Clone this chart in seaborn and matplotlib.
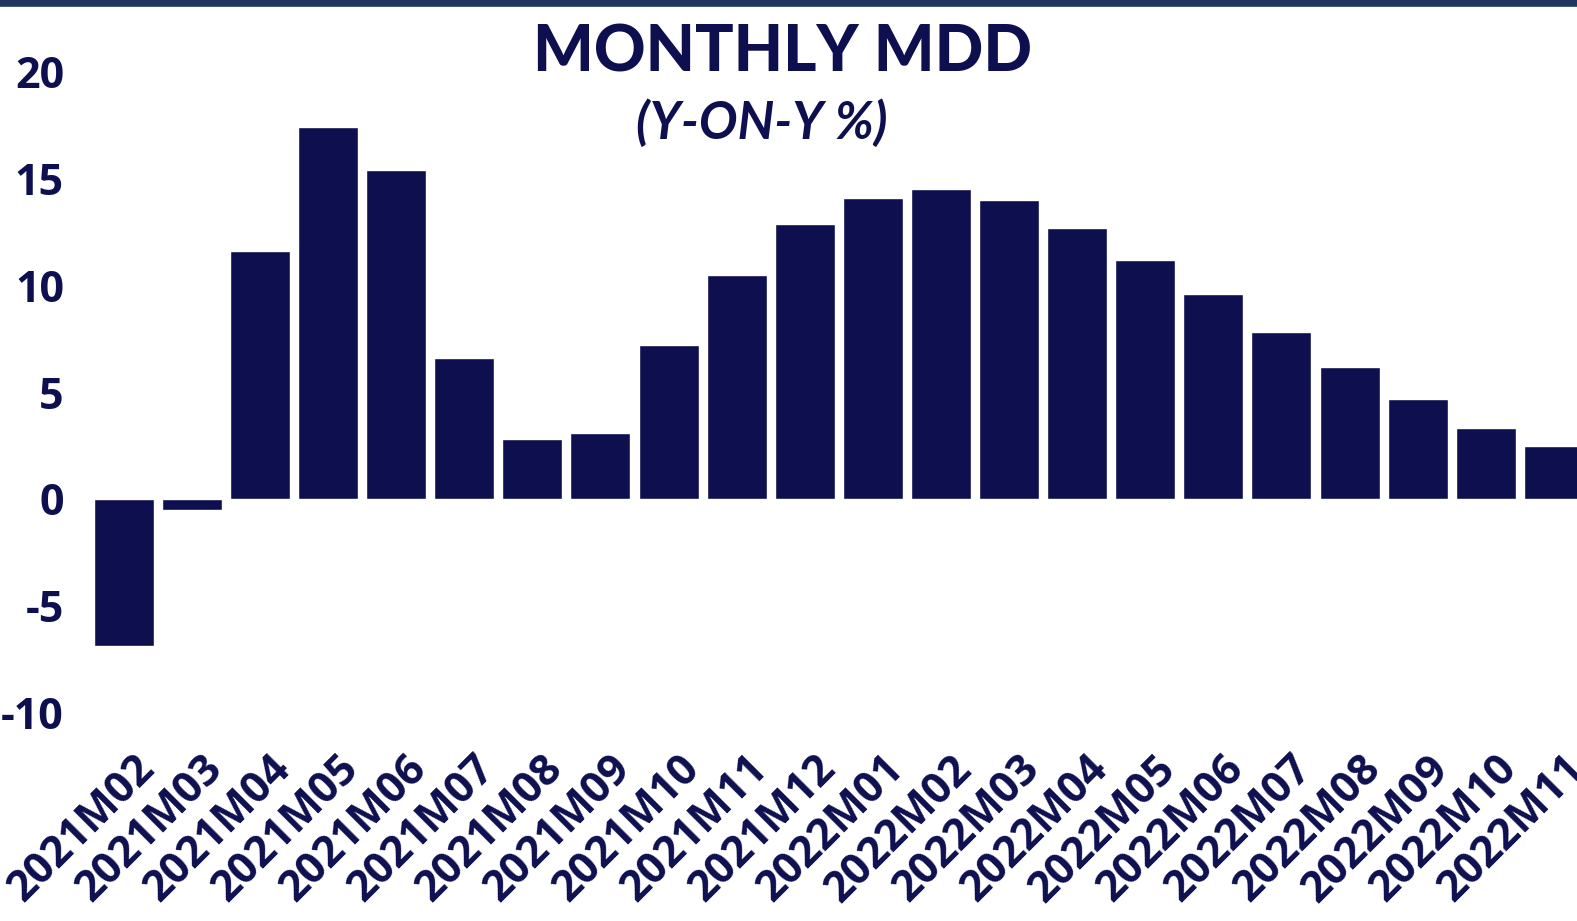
import matplotlib

matplotlib.use("Agg")

import matplotlib.pyplot as plt
import matplotlib.transforms as mtransforms
import pandas as pd
import seaborn as sns

months = [
    "2021M02", "2021M03", "2021M04", "2021M05", "2021M06", "2021M07",
    "2021M08", "2021M09", "2021M10", "2021M11", "2021M12", "2022M01",
    "2022M02", "2022M03", "2022M04", "2022M05", "2022M06", "2022M07",
    "2022M08", "2022M09", "2022M10", "2022M11",
]
mdd_yoy = [
    -6.9, -0.5, 11.6, 17.4, 15.4, 6.6, 2.8, 3.1, 7.2, 10.5, 12.9, 14.1,
    14.5, 14.0, 12.7, 11.2, 9.6, 7.8, 6.2, 4.7, 3.3, 2.5,
]
y_ticks = [-10, -5, 0, 5, 10, 15, 20]

navy = "#0d0f4f"
border = "#203560"

df = pd.DataFrame({"month": months, "value": mdd_yoy})

sns.set_style("white")
plt.rcParams["font.family"] = ["Open Sans", "DejaVu Sans"]

fig = plt.figure(figsize=(15.77, 9.21), dpi=100)
ax = fig.add_axes([0.0476, 0.2128, 0.9524, 0.7438])

sns.barplot(data=df, x="month", y="value", color=navy, saturation=1,
            width=0.88, ax=ax)

ax.set_xlim(-0.715, 21.34)
ax.set_ylim(-10.59, 21.5)
ax.set_yticks(y_ticks)
ax.set_yticklabels([str(t) for t in y_ticks], fontsize=31, fontweight="bold",
                   color=navy)
ax.set_xlabel("")
ax.set_ylabel("")
ax.tick_params(axis="both", length=0)
ax.tick_params(axis="y", pad=8)
ax.tick_params(axis="x", pad=27)
for s in ax.spines.values():
    s.set_visible(False)
ax.grid(False)

offset = mtransforms.ScaledTranslation(0.24, 0, fig.dpi_scale_trans)
for lab in ax.get_xticklabels():
    lab.set_fontsize(31)
    lab.set_fontweight("bold")
    lab.set_color(navy)
    lab.set_rotation(45)
    lab.set_ha("right")
    lab.set_va("center")
    lab.set_rotation_mode("anchor")
    lab.set_transform(lab.get_transform() + offset)

fig.text(0.496, 0.942, "MONTHLY MDD", ha="center", va="center", fontsize=46,
         fontweight="black", color=navy, family=["Lato", "DejaVu Sans"])
fig.text(0.483, 0.866, "(Y-ON-Y %)", ha="center", va="center", fontsize=37,
         fontstyle="italic", fontweight="bold", color=navy,
         family=["Lato", "DejaVu Sans"])

fig.add_artist(plt.Line2D([0, 1], [0.9965, 0.9965], transform=fig.transFigure,
                          color=border, linewidth=5.5))

fig.savefig("out.png", dpi=100)
